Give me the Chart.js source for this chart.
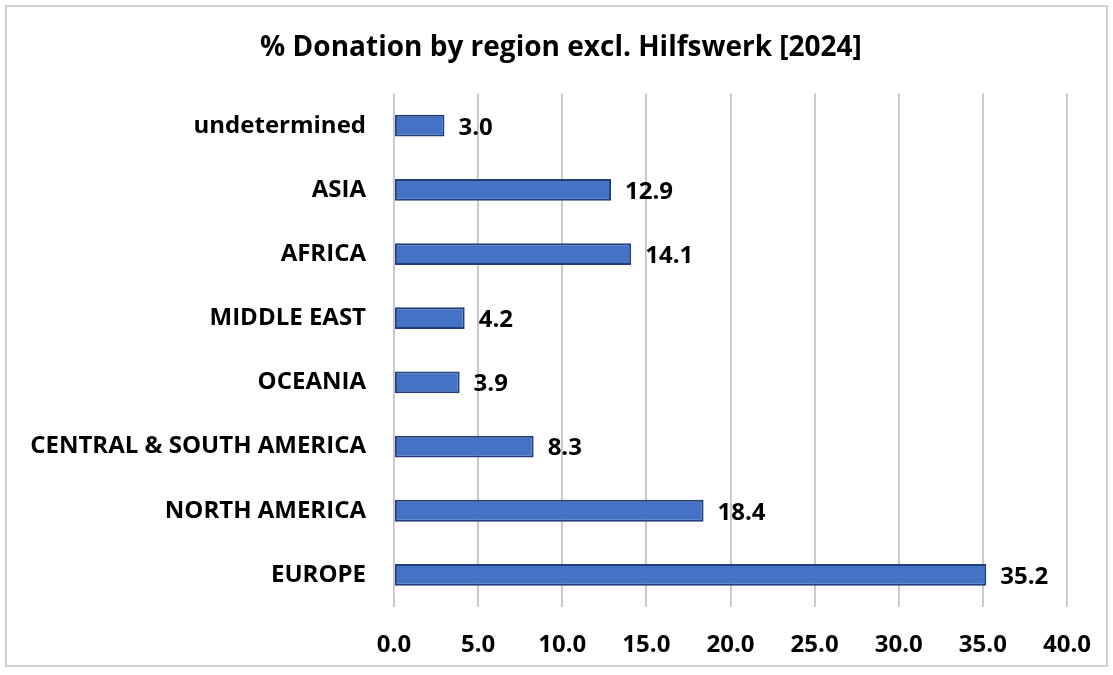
<!DOCTYPE html>
<html>
<head>
<meta charset="utf-8">
<script src="https://cdn.jsdelivr.net/npm/chart.js@4/dist/chart.umd.min.js"></script>
<style>
    body { margin: 0; background: #fff; }
    #wrap { position: relative; width: 1113px; height: 675px; }
    #frame { position: absolute; left: 5px; top: 5px; width: 1103px; height: 662px; border: 2px solid #d0d0d0; box-sizing: border-box; pointer-events: none; }
</style>
</head>
<body>
<div id="wrap">
    <canvas id="regionChart" width="1113" height="675"></canvas>
    <div id="frame"></div>
</div>
<script>
// --- Data ---
const regions = ['undetermined', 'ASIA', 'AFRICA', 'MIDDLE EAST', 'OCEANIA', 'CENTRAL & SOUTH AMERICA', 'NORTH AMERICA', 'EUROPE'];
const donationPct = [3.0, 12.9, 14.1, 4.2, 3.9, 8.3, 18.4, 35.2];
const xTicks = [0, 5, 10, 15, 20, 25, 30, 35, 40];

const FONT = "'Open Sans', 'Liberation Sans', sans-serif";

// draws the value next to the end of each bar
const valueLabels = {
    id: 'valueLabels',
    afterDatasetsDraw(chart) {
        const ctx = chart.ctx;
        ctx.save();
        ctx.font = 'bold 24px ' + FONT;
        ctx.fillStyle = '#000';
        ctx.textBaseline = 'middle';
        chart.getDatasetMeta(0).data.forEach((bar, i) => {
            ctx.fillText(donationPct[i].toFixed(1), bar.x + 14, bar.y + 2);
        });
        ctx.restore();
    }
};

const ctx = document.getElementById('regionChart').getContext('2d');
new Chart(ctx, {
    type: 'bar',
    data: {
        labels: regions,
        datasets: [{
            data: donationPct,
            backgroundColor: '#4472C4',
            borderColor: '#203F7C',
            borderWidth: 2,
            borderSkipped: false,
            barPercentage: 0.68,
            categoryPercentage: 0.5
        }]
    },
    options: {
        indexAxis: 'y',
        responsive: false,
        animation: false,
        layout: { padding: { left: 9, right: 0, top: 0, bottom: 0 } },
        plugins: {
            legend: { display: false },
            tooltip: { enabled: false },
            title: {
                display: true,
                text: '% Donation by region excl. Hilfswerk [2024]',
                color: '#000',
                font: { family: FONT, size: 28, weight: 'bold' },
                padding: { top: 31, bottom: 29 }
            }
        },
        scales: {
            x: {
                min: 0,
                max: 40,
                afterBuildTicks: axis => { axis.ticks = xTicks.map(v => ({ value: v })); },
                afterFit: axis => {
                    axis.height = 68;
                    axis.paddingLeft = 0;
                    axis.paddingRight = 46; // space right of the plot, as in the original
                },
                border: { display: false },
                grid: { color: '#c4c4c4', lineWidth: 1.8, drawTicks: false },
                ticks: {
                    color: '#000',
                    padding: 24,
                    font: { family: FONT, size: 24, weight: 'bold' },
                    callback: v => v.toFixed(1)
                }
            },
            y: {
                afterFit: axis => { axis.width = 385; },
                border: { display: false },
                grid: { display: false, drawTicks: false },
                ticks: {
                    color: '#000',
                    padding: 28,
                    font: { family: FONT, size: 24, weight: 'bold' }
                }
            }
        }
    },
    plugins: [valueLabels]
});
</script>
</body>
</html>
